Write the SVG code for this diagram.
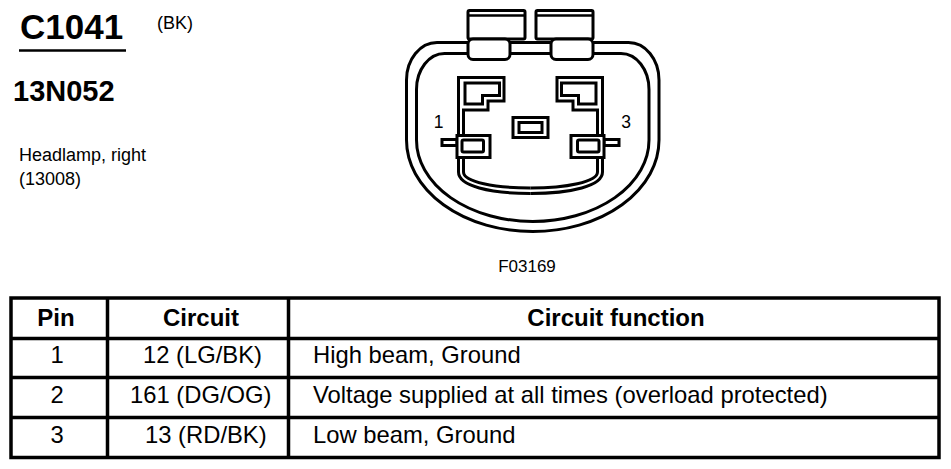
<svg xmlns="http://www.w3.org/2000/svg" width="951" height="469" viewBox="0 0 951 469">
<style>
.t{font-family:"Liberation Sans",Arial,sans-serif;fill:#000}
.b{font-weight:bold}
.ln{fill:none;stroke:#000;stroke-width:3;stroke-linejoin:miter}
.wf{fill:#fff;stroke:#000;stroke-width:3}
.tb{stroke:#000;stroke-width:3.5;fill:none}
.h{font-size:24px}
.r{font-size:23.8px}
</style>
<rect width="951" height="469" fill="#fff"/>
<g id="title">
<text class="t b" x="20" y="38.5" font-size="35">C1041</text>
<line x1="19" y1="50.5" x2="126" y2="50.5" stroke="#000" stroke-width="2.5"/>
<text class="t" x="157" y="29" font-size="18">(BK)</text>
<text class="t b" x="13" y="100.5" font-size="29">13N052</text>
<text class="t" x="19" y="161" font-size="18">Headlamp, right</text>
<text class="t" x="19" y="185" font-size="18">(13008)</text>
</g>
<g id="connector">
<path class="ln" d="M406.5,140 V80 A30.5 37.5 0 0 1 437,42.5 H628.5 A30.5 37.5 0 0 1 659,80 V140 A126.25 91.5 0 0 1 406.5,140 Z"/>
<path class="ln" d="M416.5,140 V89.5 A28 36 0 0 1 444.5,53.5 H621 A28 36 0 0 1 649,89.5 V140 A116.25 81.5 0 0 1 416.5,140 Z"/>
<g id="tab-left">
<rect class="wf" x="468" y="10.5" width="57" height="28.5" rx="1.5"/>
<line x1="468" y1="15.5" x2="525" y2="15.5" stroke="#000" stroke-width="2.5"/>
<rect class="wf" x="468" y="39" width="42" height="20.5" rx="5"/>
</g>
<g id="tab-right">
<rect class="wf" x="536" y="10.5" width="57" height="28.5" rx="1.5"/>
<line x1="536" y1="15.5" x2="593" y2="15.5" stroke="#000" stroke-width="2.5"/>
<rect class="wf" x="551" y="39" width="42" height="20.5" rx="5"/>
</g>
<g id="housing">
<path class="ln" d="M530.5,193.5 C490,193.5 458.5,186 458.5,172 V77.5 H504 V101 H488 V110 H463.5 V172 C463.5,182 495,188 530.5,188"/>
<path class="ln" d="M530.5,193.5 C571,193.5 602.5,186 602.5,172 V77.5 H557 V101 H573 V110 H597.5 V172 C597.5,182 566,188 530.5,188"/>
</g>
<g id="pin1">
<path class="ln" stroke-width="3.5" d="M465,83 H499.5 V95.5 H482.5 V104 H465 Z"/>
<rect class="wf" stroke-width="2.5" x="442" y="139.5" width="15" height="6"/>
<rect class="wf" x="457" y="135.5" width="33" height="22"/>
<rect class="wf" x="462" y="140" width="21.5" height="12" rx="1.5"/>
<text class="t" x="438.5" y="128" font-size="17.5" text-anchor="middle">1</text>
</g>
<g id="pin2">
<rect class="wf" x="513" y="117.5" width="35" height="20"/>
<rect class="wf" x="519" y="122.5" width="23" height="10"/>
</g>
<g id="pin3">
<path class="ln" stroke-width="3.5" d="M596,83 H561.5 V95.5 H578.5 V104 H596 Z"/>
<rect class="wf" stroke-width="2.5" x="604" y="139.5" width="15" height="6"/>
<rect class="wf" x="571" y="135.5" width="33" height="22"/>
<rect class="wf" x="577.5" y="140" width="21.5" height="12" rx="1.5"/>
<text class="t" x="626" y="128" font-size="17.5" text-anchor="middle">3</text>
</g>
</g>
<text id="figno" class="t" x="527" y="272" font-size="17" text-anchor="middle">F03169</text>
<g id="table">
<rect class="tb" x="11" y="298" width="928" height="159.5"/>
<line class="tb" x1="11" y1="338.5" x2="939" y2="338.5"/>
<line class="tb" x1="11" y1="377.5" x2="939" y2="377.5"/>
<line class="tb" x1="11" y1="417.5" x2="939" y2="417.5"/>
<line class="tb" x1="107.5" y1="298" x2="107.5" y2="457.5"/>
<line class="tb" x1="288.5" y1="298" x2="288.5" y2="457.5"/>
<text class="t b h" x="56" y="325.5" text-anchor="middle">Pin</text>
<text class="t b h" x="201" y="325.5" text-anchor="middle">Circuit</text>
<text class="t b h" x="616" y="325.5" text-anchor="middle">Circuit function</text>
<text class="t r" x="57" y="363" text-anchor="middle">1</text>
<text class="t r" x="143" y="363">12 (LG/BK)</text>
<text class="t r" x="313" y="363">High beam, Ground</text>
<text class="t r" x="57" y="402.5" text-anchor="middle">2</text>
<text class="t r" x="130" y="402.5">161 (DG/OG)</text>
<text class="t r" x="313" y="402.5">Voltage supplied at all times (overload protected)</text>
<text class="t r" x="57" y="442.5" text-anchor="middle">3</text>
<text class="t r" x="145" y="442.5">13 (RD/BK)</text>
<text class="t r" x="313" y="442.5">Low beam, Ground</text>
</g>
</svg>
